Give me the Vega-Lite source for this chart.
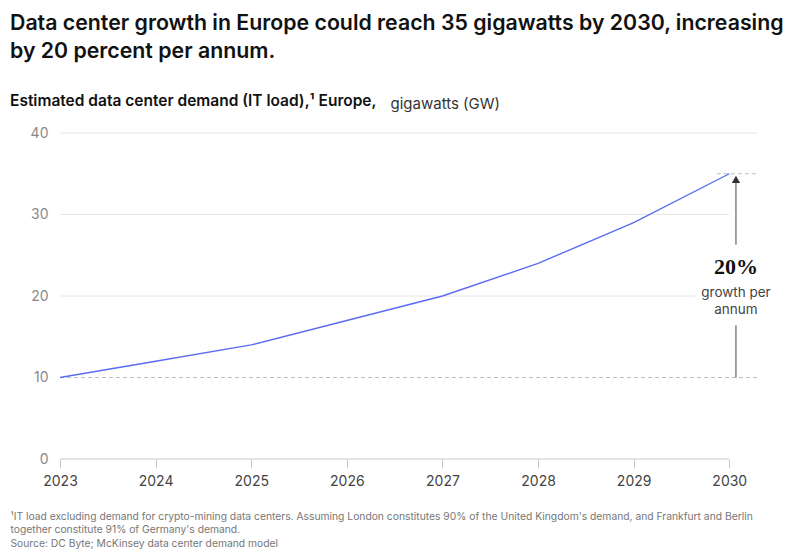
{
  "$schema": "https://vega.github.io/schema/vega-lite/v6.json",
  "width": 697,
  "height": 326,
  "autosize": {"type": "none"},
  "padding": {"left": 60, "top": 133, "right": 43, "bottom": 101},
  "background": "white",
  "title": {
    "text": ["Data center growth in Europe could reach 35 gigawatts by 2030, increasing", "by 20 percent per annum."],
    "subtitle": "Estimated data center demand (IT load),¹ Europe,",
    "anchor": "start",
    "frame": "group",
    "dx": -50,
    "offset": -13,
    "font": "Inter",
    "fontSize": 21.3,
    "fontWeight": 600,
    "lineHeight": 28,
    "color": "#111111",
    "subtitleFont": "Inter",
    "subtitleFontSize": 15.5,
    "subtitleFontWeight": 600,
    "subtitleColor": "#111111",
    "subtitlePadding": 31
  },
  "config": {
    "view": {"stroke": null},
    "font": "Inter"
  },
  "encoding": {
    "x": {
      "field": "year",
      "type": "quantitative",
      "scale": {"domain": [2023, 2030.29], "nice": false, "zero": false},
      "axis": {
        "values": [2023, 2024, 2025, 2026, 2027, 2028, 2029, 2030],
        "format": "d",
        "grid": false,
        "domain": false,
        "ticks": true,
        "tickSize": 9,
        "tickColor": "#c8c8c8",
        "labelPadding": 6,
        "labelFlush": false,
        "labelFont": "Inter",
        "labelFontSize": 14,
        "labelColor": "#444444",
        "title": ["¹IT load excluding demand for crypto-mining data centers. Assuming London constitutes 90% of the United Kingdom's demand, and Frankfurt and Berlin", "\u00a0\u00a0together constitute 91% of Germany's demand.", "\u00a0Source: DC Byte; McKinsey data center demand model"],
        "titleX": -50,
        "titleY": 52,
        "titleAlign": "left",
        "titleAnchor": "start",
        "titleBaseline": "top",
        "titleFont": "Inter",
        "titleFontSize": 10.3,
        "titleFontWeight": "normal",
        "titleColor": "#777777",
        "titleLineHeight": 13.5
      }
    },
    "y": {
      "field": "value",
      "type": "quantitative",
      "scale": {"domain": [0, 40], "nice": false},
      "axis": {
        "values": [0, 10, 20, 30, 40],
        "grid": false,
        "domain": false,
        "ticks": false,
        "labelPadding": 12,
        "labelFont": "Inter",
        "labelFontSize": 14,
        "labelColor": "#8a8a8a",
        "title": "gigawatts (GW)",
        "titleAngle": 0,
        "titleX": 330,
        "titleY": -25,
        "titleAlign": "left",
        "titleBaseline": "alphabetic",
        "titleFont": "Inter",
        "titleFontSize": 15,
        "titleFontWeight": "normal",
        "titleColor": "#333333"
      }
    }
  },
  "layer": [
    {
      "data": {"values": [
        {"year": 2023, "year2": 2030.29, "value": 40},
        {"year": 2023, "year2": 2030, "value": 30},
        {"year": 2023, "year2": 2029.65, "value": 20}
      ]},
      "mark": {"type": "rule", "color": "#e6e6e6", "strokeWidth": 1},
      "encoding": {"x2": {"field": "year2"}}
    },
    {
      "data": {"values": [
        {"year": 2023, "year2": 2030.29, "value": 10},
        {"year": 2029.87, "year2": 2030.29, "value": 35}
      ]},
      "mark": {"type": "rule", "color": "#bdbdbd", "strokeWidth": 1, "strokeDash": [4, 3]},
      "encoding": {"x2": {"field": "year2"}}
    },
    {
      "data": {"values": [{"year": 2023, "year2": 2030, "value": 0}]},
      "mark": {"type": "rule", "color": "#c8c8c8", "strokeWidth": 1},
      "encoding": {"x2": {"field": "year2"}}
    },
    {
      "data": {"values": [
        {"year": 2023, "value": 10},
        {"year": 2024, "value": 12},
        {"year": 2025, "value": 14},
        {"year": 2026, "value": 17},
        {"year": 2027, "value": 20},
        {"year": 2028, "value": 24},
        {"year": 2029, "value": 29},
        {"year": 2030, "value": 35}
      ]},
      "mark": {"type": "line", "color": "#5b6cf2", "strokeWidth": 1.4}
    },
    {
      "data": {"values": [
        {"year": 2030.07, "value": 10, "value2": 16.4},
        {"year": 2030.07, "value": 26.3, "value2": 34}
      ]},
      "mark": {"type": "rule", "color": "#444444", "strokeWidth": 1},
      "encoding": {"y2": {"field": "value2"}}
    },
    {
      "data": {"values": [{"year": 2030.07, "value": 34.3}]},
      "mark": {"type": "point", "shape": "triangle-up", "filled": true, "color": "#333333", "size": 70, "opacity": 1}
    },
    {
      "data": {"values": [{"year": 2030.07, "value": 23.6, "label": "20%"}]},
      "mark": {"type": "text", "font": "Liberation Serif", "fontSize": 22, "fontWeight": "bold", "color": "#111111", "baseline": "middle", "align": "center"},
      "encoding": {"text": {"field": "label"}}
    },
    {
      "data": {"values": [
        {"year": 2030.07, "value": 20.4, "label": "growth per"},
        {"year": 2030.07, "value": 18.3, "label": "annum"}
      ]},
      "mark": {"type": "text", "font": "Inter", "fontSize": 13.5, "color": "#444444", "baseline": "middle", "align": "center"},
      "encoding": {"text": {"field": "label"}}
    }
  ]
}
